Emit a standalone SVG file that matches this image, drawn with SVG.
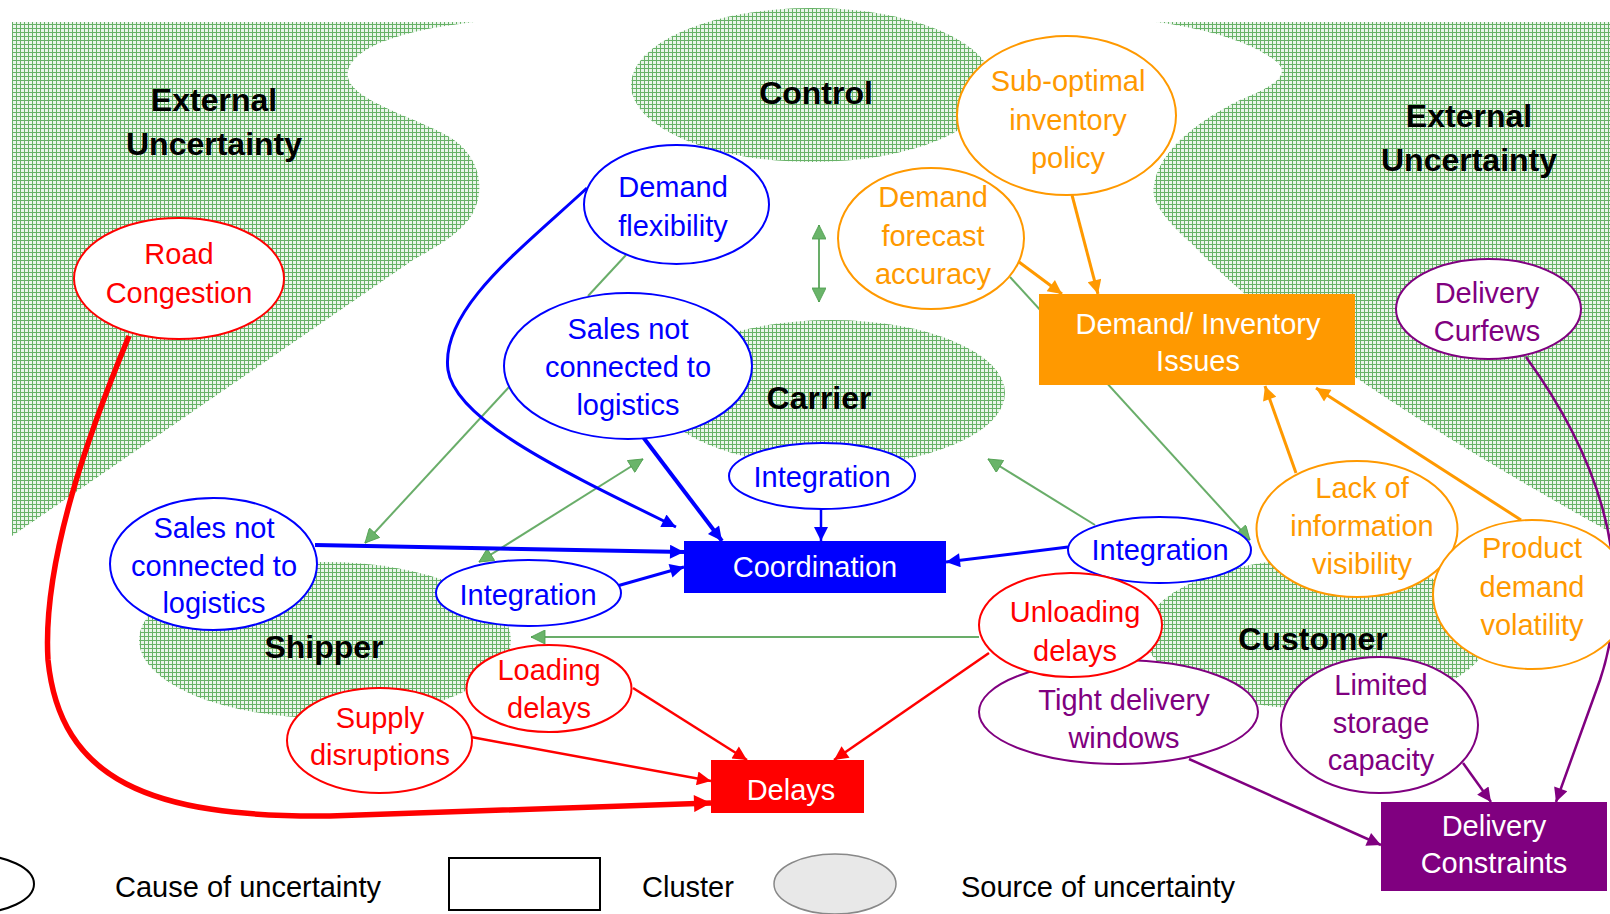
<svg xmlns="http://www.w3.org/2000/svg" width="1610" height="914" viewBox="0 0 1610 914">
<defs>
<pattern id="hatch" width="4" height="4" patternUnits="userSpaceOnUse">
<rect width="4" height="4" fill="#eaf5ea"/>
<path d="M0,0.5H4M0.5,0V4" stroke="#67b267" stroke-width="1"/>
</pattern>
<marker id="ab" viewBox="0 0 10 10" refX="10" refY="5" markerWidth="18" markerHeight="14" markerUnits="userSpaceOnUse" orient="auto"><path d="M0,0L10,5L0,10z" fill="#0000FF"/></marker>
<marker id="ar" viewBox="0 0 10 10" refX="10" refY="5" markerWidth="18" markerHeight="14" markerUnits="userSpaceOnUse" orient="auto"><path d="M0,0L10,5L0,10z" fill="#FF0000"/></marker>
<marker id="arb" viewBox="0 0 10 10" refX="10" refY="5" markerWidth="20" markerHeight="17" markerUnits="userSpaceOnUse" orient="auto"><path d="M0,0L10,5L0,10z" fill="#FF0000"/></marker>
<marker id="ao" viewBox="0 0 10 10" refX="10" refY="5" markerWidth="18" markerHeight="14" markerUnits="userSpaceOnUse" orient="auto"><path d="M0,0L10,5L0,10z" fill="#FF9900"/></marker>
<marker id="ap" viewBox="0 0 10 10" refX="10" refY="5" markerWidth="18" markerHeight="14" markerUnits="userSpaceOnUse" orient="auto"><path d="M0,0L10,5L0,10z" fill="#800080"/></marker>
<marker id="ag" viewBox="0 0 10 10" refX="10" refY="5" markerWidth="16" markerHeight="14" markerUnits="userSpaceOnUse" orient="auto-start-reverse"><path d="M0,0L10,5L0,10z" fill="#6ab46a" stroke="#4f9f4f" stroke-width="0.6"/></marker>
</defs>
<style>
text{font-family:"Liberation Sans",Arial,sans-serif;font-size:29px;text-anchor:middle}
.bold{font-weight:bold;font-size:32px;fill:#000}
.src{fill:url(#hatch)}
.nb{fill:#fff;stroke:#0000FF;stroke-width:2}
.nr{fill:#fff;stroke:#FF0000;stroke-width:2}
.no{fill:#fff;stroke:#FF9900;stroke-width:2}
.np{fill:#fff;stroke:#800080;stroke-width:2}
.tb{fill:#0000FF}.tr{fill:#FF0000}.to{fill:#FF9900}.tp{fill:#800080}.tw{fill:#fff}
.cg{fill:none;stroke:#4f9f4f;stroke-width:2;stroke-opacity:0.85}
.cb{fill:none;stroke:#0000FF;marker-end:url(#ab)}
.cr{fill:none;stroke:#FF0000;stroke-width:2.5;marker-end:url(#ar)}
.co{fill:none;stroke:#FF9900;stroke-width:3;marker-end:url(#ao)}
.cp{fill:none;stroke:#800080;stroke-width:2.5;marker-end:url(#ap)}
.leg{text-anchor:start;fill:#000}
</style>
<rect width="1610" height="914" fill="#fff"/>
<g id="sources">
<path class="src" d="M12,22H475C420,28 355,42 348,71C342,98 410,115 448,136C480,155 488,190 470,218C455,238 430,250 413,260L12,536Z"/>
<path class="src" d="M1156,22H1610V532Q1300,360 1191,243C1165,220 1150,200 1154,186C1158,150 1200,120 1240,100C1270,88 1292,76 1277,62C1250,40 1200,28 1156,22Z"/>
<ellipse class="src" cx="812" cy="85" rx="181" ry="77"/>
<ellipse class="src" cx="831" cy="393" rx="174" ry="73"/>
<ellipse class="src" cx="325" cy="640" rx="186" ry="78"/>
<ellipse class="src" cx="1317" cy="634" rx="172" ry="75"/>
<text class="bold" x="214" y="111">External</text>
<text class="bold" x="214" y="155">Uncertainty</text>
<text class="bold" x="1469" y="127">External</text>
<text class="bold" x="1469" y="171">Uncertainty</text>
<text class="bold" x="816" y="104">Control</text>
<text class="bold" x="819" y="409">Carrier</text>
<text class="bold" x="324" y="658">Shipper</text>
<text class="bold" x="1313" y="650">Customer</text>
</g>
<g id="connectors">
<path class="cg" d="M819,225V302" marker-start="url(#ag)" marker-end="url(#ag)"/>
<path class="cg" d="M626,255L588,296"/>
<path class="cg" d="M510,386L365,543" marker-end="url(#ag)"/>
<path class="cg" d="M479,562L643,459" marker-start="url(#ag)" marker-end="url(#ag)"/>
<path class="cg" d="M1095,525L988,459" marker-end="url(#ag)"/>
<path class="cg" d="M1010,277L1250,540" marker-end="url(#ag)"/>
<path class="cg" d="M979,637H531" marker-end="url(#ag)"/>
<path class="cb" stroke-width="3" d="M587,188C520,250 440,310 448,370C455,420 560,470 676,527"/>
<path class="cb" stroke-width="4" d="M643,437L722,541"/>
<path class="cb" stroke-width="2.5" d="M821,509V541"/>
<path class="cb" stroke-width="4" d="M315,545L684,552"/>
<path class="cb" stroke-width="3" d="M617,586L684,567"/>
<path class="cb" stroke-width="3" d="M1068,547L946,562"/>
<path fill="none" stroke="#FF0000" stroke-width="5.5" marker-end="url(#arb)" d="M129,336C90,430 42,560 48,660C60,780 150,818 330,816L711,803"/>
<path class="cr" d="M471,737L711,781"/>
<path class="cr" d="M633,688L747,760"/>
<path class="cr" d="M989,653L834,760"/>
<path class="co" d="M1072,195L1098,294"/>
<path class="co" d="M1019,262L1062,294"/>
<path class="co" d="M1296,473L1265,386"/>
<path class="co" d="M1521,520L1316,388"/>
<path class="cp" d="M1526,357C1590,445 1640,560 1600,680L1556,802"/>
<path class="cp" d="M1189,759L1381,845"/>
<path class="cp" d="M1463,763L1491,802"/>
</g>
<g id="road-congestion"><ellipse class="nr" cx="179" cy="278.5" rx="105" ry="60.5"/><text class="tr" x="179" y="264">Road</text><text class="tr" x="179" y="303">Congestion</text></g>
<g id="demand-flexibility"><ellipse class="nb" cx="676.5" cy="204.5" rx="92.5" ry="59.5"/><text class="tb" x="673" y="197">Demand</text><text class="tb" x="673" y="236">flexibility</text></g>
<g id="sales-top"><ellipse class="nb" cx="628" cy="366" rx="124" ry="73"/><text class="tb" x="628" y="339">Sales not</text><text class="tb" x="628" y="377">connected to</text><text class="tb" x="628" y="415">logistics</text></g>
<g id="sales-left"><ellipse class="nb" cx="213.5" cy="564" rx="103.5" ry="66"/><text class="tb" x="214" y="538">Sales not</text><text class="tb" x="214" y="576">connected to</text><text class="tb" x="214" y="613">logistics</text></g>
<g id="integration-top"><ellipse class="nb" cx="822" cy="476" rx="93" ry="33"/><text class="tb" x="822" y="487">Integration</text></g>
<g id="integration-left"><ellipse class="nb" cx="528.5" cy="593" rx="92.5" ry="33"/><text class="tb" x="528" y="605">Integration</text></g>
<g id="integration-right"><ellipse class="nb" cx="1159.5" cy="550" rx="91.5" ry="33"/><text class="tb" x="1160" y="560">Integration</text></g>
<g id="coordination"><rect x="684" y="541" width="262" height="52" fill="#0000FF"/><text class="tw" x="815" y="577">Coordination</text></g>
<g id="demand-forecast"><ellipse class="no" cx="931" cy="238.5" rx="93" ry="70.5"/><text class="to" x="933" y="207">Demand</text><text class="to" x="933" y="246">forecast</text><text class="to" x="933" y="284">accuracy</text></g>
<g id="sub-optimal"><ellipse class="no" cx="1066.5" cy="115.5" rx="109.5" ry="79.5"/><text class="to" x="1068" y="91">Sub-optimal</text><text class="to" x="1068" y="130">inventory</text><text class="to" x="1068" y="168">policy</text></g>
<g id="demand-inventory"><rect x="1039" y="294" width="316" height="91" fill="#FF9900"/><text class="tw" x="1198" y="334">Demand/ Inventory</text><text class="tw" x="1198" y="371">Issues</text></g>
<g id="lack-info"><ellipse class="no" cx="1357" cy="529" rx="100.5" ry="68"/><text class="to" x="1362" y="498">Lack of</text><text class="to" x="1362" y="536">information</text><text class="to" x="1362" y="574">visibility</text></g>
<g id="product-demand"><ellipse class="no" cx="1532" cy="594.5" rx="99" ry="74.5"/><text class="to" x="1532" y="558">Product</text><text class="to" x="1532" y="597">demand</text><text class="to" x="1532" y="635">volatility</text></g>
<g id="delivery-curfews"><ellipse class="np" cx="1488.5" cy="309" rx="92.5" ry="50"/><text class="tp" x="1487" y="303">Delivery</text><text class="tp" x="1487" y="341">Curfews</text></g>
<g id="tight-delivery"><ellipse class="np" cx="1118.5" cy="712" rx="139.5" ry="52"/><text class="tp" x="1124" y="710">Tight delivery</text><text class="tp" x="1124" y="748">windows</text></g>
<g id="unloading"><ellipse class="nr" cx="1070.5" cy="625" rx="91.5" ry="52"/><text class="tr" x="1075" y="622">Unloading</text><text class="tr" x="1075" y="661">delays</text></g>
<g id="limited-storage"><ellipse class="np" cx="1379.5" cy="725" rx="98.5" ry="68"/><text class="tp" x="1381" y="695">Limited</text><text class="tp" x="1381" y="733">storage</text><text class="tp" x="1381" y="770">capacity</text></g>
<g id="delivery-constraints"><rect x="1381" y="802" width="226" height="89" fill="#800080"/><text class="tw" x="1494" y="836">Delivery</text><text class="tw" x="1494" y="873">Constraints</text></g>
<g id="loading"><ellipse class="nr" cx="549" cy="688.5" rx="82.5" ry="43.5"/><text class="tr" x="549" y="680">Loading</text><text class="tr" x="549" y="718">delays</text></g>
<g id="supply"><ellipse class="nr" cx="379.5" cy="740.5" rx="92.5" ry="52.5"/><text class="tr" x="380" y="728">Supply</text><text class="tr" x="380" y="765">disruptions</text></g>
<g id="delays"><rect x="711" y="760" width="153" height="53" fill="#FF0000"/><text class="tw" x="791" y="800">Delays</text></g>
<g id="legend">
<ellipse cx="-27" cy="884" rx="61" ry="29" fill="#fff" stroke="#000" stroke-width="2"/>
<text class="leg" x="115" y="897">Cause of uncertainty</text>
<rect x="449" y="858" width="151" height="52" fill="#fff" stroke="#000" stroke-width="2"/>
<text class="leg" x="642" y="897">Cluster</text>
<ellipse cx="835" cy="884" rx="61" ry="30" fill="#e8e8e8" stroke="#888" stroke-width="1.5"/>
<text class="leg" x="961" y="897">Source of uncertainty</text>
</g>
</svg>
